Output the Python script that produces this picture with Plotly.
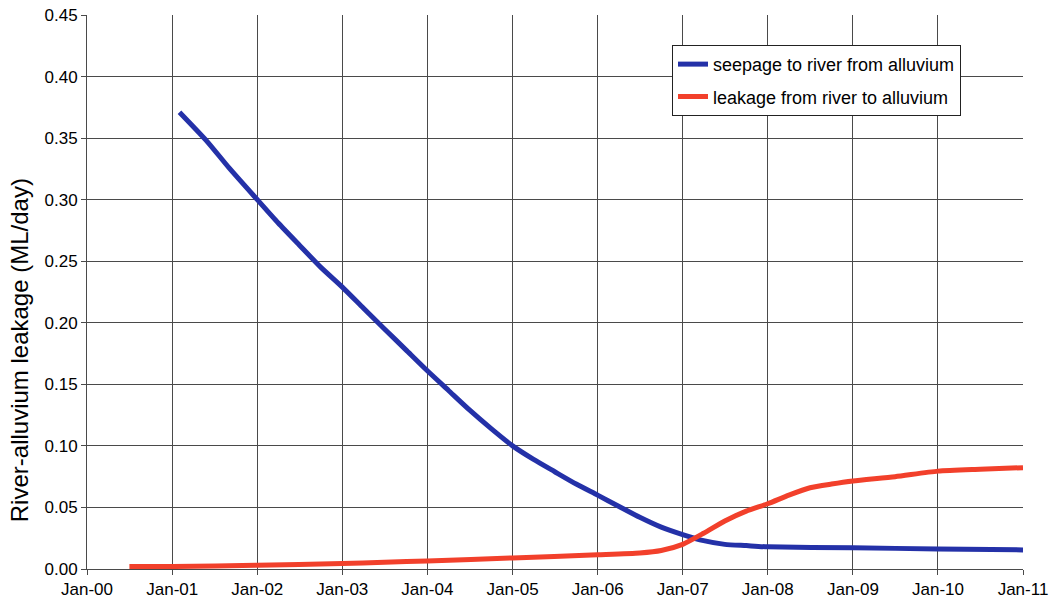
import plotly.graph_objects as go

# Seepage from the alluvium into the river (ML/day)
seep_dates = [
    "2001-02-01", "2001-06-01", "2001-09-01", "2002-01-01", "2002-04-01",
    "2002-07-01", "2002-10-01", "2003-01-01", "2003-04-01", "2003-07-01",
    "2003-10-01", "2004-01-01", "2004-04-01", "2004-07-01", "2004-10-01",
    "2005-01-01", "2005-04-01", "2005-07-01", "2005-10-01", "2006-01-01",
    "2006-04-01", "2006-07-01", "2006-10-01", "2007-01-01", "2007-04-01",
    "2007-07-01", "2007-10-01", "2008-01-01", "2009-01-01", "2010-01-01",
    "2011-01-01",
]
seep_values = [
    0.371, 0.347, 0.326, 0.300, 0.281,
    0.263, 0.245, 0.229, 0.212, 0.195,
    0.178, 0.161, 0.145, 0.129, 0.114,
    0.100, 0.089, 0.079, 0.069, 0.060,
    0.051, 0.042, 0.034, 0.028, 0.023,
    0.020, 0.019, 0.018, 0.0172, 0.0163,
    0.0155,
]

# Leakage from the river into the alluvium (ML/day)
leak_dates = [
    "2000-07-01", "2001-01-01", "2002-01-01", "2003-01-01", "2003-07-01",
    "2004-01-01", "2005-01-01", "2006-01-01", "2006-07-01", "2006-10-01",
    "2007-01-01", "2007-04-01", "2007-07-01", "2007-10-01", "2008-01-01",
    "2008-04-01", "2008-07-01", "2008-10-01", "2009-01-01", "2009-07-01",
    "2010-01-01", "2010-07-01", "2011-01-01",
]
leak_values = [
    0.002, 0.002, 0.003, 0.0045, 0.0055,
    0.0065, 0.009, 0.0115, 0.013, 0.015,
    0.020, 0.029, 0.039, 0.047, 0.053,
    0.060, 0.066, 0.069, 0.0715, 0.075,
    0.0795, 0.081, 0.0823,
]

tick_dates = [f"{y}-01-01" for y in range(2000, 2012)]
tick_labels = [f"Jan-{y % 100:02d}" for y in range(2000, 2012)]
y_ticks = [i * 0.05 for i in range(10)]

FONT = "Liberation Sans, Arial, sans-serif"

fig = go.Figure()
fig.add_trace(go.Scatter(
    x=seep_dates, y=seep_values, mode="lines",
    name="seepage to river from alluvium", legendgroup="a",
    line=dict(color="#2431A8", width=5, shape="spline", smoothing=0.6),
))
fig.add_trace(go.Scatter(
    x=leak_dates, y=leak_values, mode="lines",
    name="leakage from river to alluvium", legendgroup="b",
    line=dict(color="#F2402B", width=5, shape="spline", smoothing=0.6),
))

fig.update_layout(
    width=1058, height=609,
    margin=dict(l=87, r=35, t=15, b=40, autoexpand=False),
    paper_bgcolor="white", plot_bgcolor="white",
    font=dict(family=FONT, color="black", size=17),
    showlegend=True,
    legend=dict(
        x=0.625, y=0.946, xanchor="left", yanchor="top",
        bgcolor="white", bordercolor="#222", borderwidth=1,
        font=dict(family=FONT, size=18, color="black"),
        tracegroupgap=6,
    ),
    xaxis=dict(
        type="date", range=["2000-01-01", "2011-01-01"],
        tickmode="array", tickvals=tick_dates, ticktext=tick_labels,
        showgrid=True, gridcolor="#4a4a4a", gridwidth=1,
        ticks="outside", ticklen=5, tickcolor="#4a4a4a",
        showline=True, linecolor="#4a4a4a", linewidth=1,
        tickfont=dict(size=17), zeroline=False,
    ),
    yaxis=dict(
        range=[0, 0.45],
        tickmode="array", tickvals=y_ticks,
        ticktext=[f"{v:.2f}" for v in y_ticks],
        showgrid=True, gridcolor="#4a4a4a", gridwidth=1,
        ticks="outside", ticklen=5, tickcolor="#4a4a4a",
        showline=True, linecolor="#4a4a4a", linewidth=1,
        tickfont=dict(size=17), zeroline=False,
    ),
)

# Vertical axis caption, placed in paper coordinates left of the tick labels
fig.add_annotation(
    text="River-alluvium leakage (ML/day)",
    xref="paper", yref="paper", x=-0.0726, y=0.395,
    xanchor="center", yanchor="middle", textangle=-90,
    showarrow=False, font=dict(family=FONT, size=24, color="black"),
)

fig.write_html("out.html")
